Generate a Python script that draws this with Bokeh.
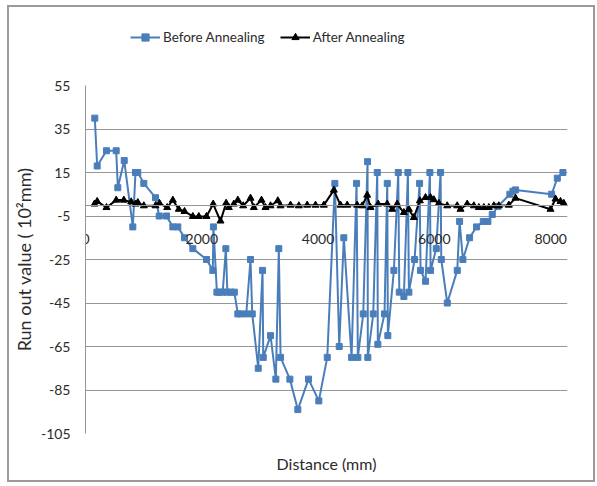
from bokeh.plotting import figure
from bokeh.layouts import column
from bokeh.models import Range1d, LinearAxis, FixedTicker, Legend, LegendItem
from bokeh.embed import file_html
from bokeh.resources import INLINE

# Before Annealing (blue)
before_x = [160, 201, 361, 528, 556, 666, 814, 860, 900, 1003, 1204, 1268, 1393, 1502, 1588,
            1703, 1846, 2082, 2190, 2200, 2260, 2300, 2360, 2414, 2440, 2500, 2560, 2620,
            2666, 2765, 2838, 2868, 2971, 3045, 3057, 3183, 3274, 3325, 3355, 3515, 3652,
            3836, 4013, 4158, 4289, 4364, 4443, 4576, 4662, 4684, 4777, 4851, 4856, 4949,
            5018, 5028, 5143, 5190, 5200, 5304, 5379, 5397, 5476, 5545, 5562, 5660, 5746,
            5763, 5849, 5923, 5935, 6033, 6107, 6119, 6222, 6394, 6434, 6491, 6606, 6726,
            6842, 6921, 6996, 7093, 7299, 7351, 7397, 8017, 8115, 8211]
before_y = [40, 18, 25, 25, 8, 20.5, -10, 15, 15, 10, 3.4, -5, -5, -10, -10,
            -15, -20, -25, -30, -10, -40, -40, -40, -20, -40, -40, -40, -50,
            -50, -50, -25, -50, -75, -30, -70, -60, -80, -20, -70, -80, -94,
            -80, -90, -70, 10, -65, -15, -70, 10, -70, -50, 20, -70, -50,
            15, -64, -50, 10, -60, -30, 15, -40, -42, 15, -40, -25, 10,
            -30, -35, 15, -30, -20, 15, -25, -45, -30, -7.5, -25, -15, -10,
            -7.5, -7.5, -4.3, -0.6, 5, 6.4, 7, 5, 12.4, 15]

# After Annealing (black)
after_x = [155, 201, 361, 528, 659, 786, 860, 900, 1003, 1204, 1273, 1405, 1502, 1605, 1703,
           1846, 1949, 2081, 2196, 2322, 2419, 2465, 2551, 2620, 2712, 2838, 2895, 3027,
           3096, 3182, 3308, 3354, 3526, 3669, 3813, 3956, 4099, 4271, 4386, 4501, 4673,
           4759, 4845, 4902, 5034, 5189, 5275, 5361, 5475, 5561, 5647, 5751, 5848, 5934,
           5991, 6077, 6221, 6393, 6450, 6565, 6679, 6765, 6851, 6937, 7023, 7109, 7281,
           7396, 7998, 8084, 8170, 8227]
after_y = [0.5, 1.7, -1.1, 2.3, 2.3, 1.5, 0.5, 1.2, -0.3, -0.3, 0.8, -1.1, 2.3, -1.9, -2.9,
           -5.2, -5.2, -5.2, 0.5, -7.3, 0.9, -1.1, 0.5, 2.3, -0.3, 3.2, -1.1, 2.3,
           -1.1, -0.3, 2.0, -0.3, 0.0, -0.3, 0.0, 0.0, 0.0, 6.9, 0.0, 0.0, 0.0,
           -0.3, 4.6, -1.1, 0.5, 0.5, -1.9, 0.5, -3.4, -1.9, -5.7, 2.0, 3.5, 3.5,
           2.5, 0.8, -0.3, -0.3, -1.9, 0.5, -0.3, -1.1, -1.1, -1.1, -0.3, -0.3, 0.0,
           3.2, -1.9, 2.8, 1.7, 0.8]

y_ticks = [55, 35, 15, -5, -25, -45, -65, -85, -105]
x_ticks = [0, 2000, 4000, 6000, 8000]

FONT = "Lato"
TXT = "#2b2b2b"
GRID = "#969696"
BLUE = "#4a7ebb"

# ---- legend strip (top) ----
top = figure(width=584, height=60, output_backend="svg", toolbar_location=None,
             x_axis_type=None, y_axis_type=None,
             x_range=Range1d(0, 1), y_range=Range1d(0, 1),
             min_border_left=0, min_border_right=0, min_border_top=0, min_border_bottom=0)
top.outline_line_color = None
top.grid.visible = False
lb = top.line([5, 6], [5, 6], line_color=BLUE, line_width=2)
sb = top.scatter([5], [5], marker="square", size=6, fill_color=BLUE, line_color=BLUE)
la = top.line([5, 6], [5, 6], line_color="black", line_width=2)
sa = top.scatter([5], [5], marker="triangle", size=7, fill_color="black", line_color="black")
legend = Legend(items=[LegendItem(label="Before Annealing", renderers=[lb, sb]),
                       LegendItem(label="After Annealing", renderers=[la, sa])],
                orientation="horizontal", location=(45, 21))
legend.glyph_width = 30
legend.glyph_height = 18
legend.label_standoff = 3
legend.spacing = 15
legend.padding = 0
legend.margin = 0
legend.border_line_color = None
legend.background_fill_alpha = 0
legend.label_text_font = FONT
legend.label_text_font_size = "13.5px"
legend.label_text_color = TXT
top.add_layout(legend, "center")

# ---- main chart ----
p = figure(width=584, height=413, output_backend="svg", toolbar_location=None,
           x_range=Range1d(0, 8290), y_range=Range1d(-105, 55),
           min_border_left=76, min_border_right=26, min_border_top=18, min_border_bottom=47)
p.outline_line_color = None
p.background_fill_color = "white"
p.border_fill_color = "white"

p.xgrid.visible = False
p.ygrid.ticker = FixedTicker(ticks=y_ticks)
p.ygrid.grid_line_color = GRID
p.ygrid.grid_line_width = 1

ya = p.yaxis[0]
ya.ticker = FixedTicker(ticks=y_ticks)
ya.major_label_overrides = {t: str(t) for t in y_ticks}
ya.axis_line_color = GRID
ya.major_tick_line_color = None
ya.minor_tick_line_color = None
ya.major_tick_out = 0
ya.major_tick_in = 0
ya.minor_tick_out = 0
ya.major_label_standoff = 15
ya.major_label_text_font = FONT
ya.major_label_text_font_size = "14px"
ya.major_label_text_color = TXT
ya.axis_label = "Run out value ( 10²mm)"
ya.axis_label_text_font = FONT
ya.axis_label_text_font_style = "normal"
ya.axis_label_text_font_size = "18px"
ya.axis_label_text_color = TXT
ya.axis_label_standoff = 3

xa = p.xaxis[0]
xa.ticker = FixedTicker(ticks=[])
xa.axis_line_color = None
xa.major_tick_line_color = None
xa.minor_tick_line_color = None
xa.major_tick_out = 0
xa.major_tick_in = 0
xa.minor_tick_out = 0
xa.major_label_standoff = 0
xa.axis_label = "Distance (mm)"
xa.axis_label_text_font = FONT
xa.axis_label_text_font_style = "normal"
xa.axis_label_text_font_size = "16px"
xa.axis_label_text_color = TXT
xa.axis_label_standoff = 20

x0 = LinearAxis(ticker=FixedTicker(ticks=x_ticks), fixed_location=0)
x0.axis_line_color = GRID
x0.major_tick_line_color = None
x0.minor_tick_line_color = None
x0.major_tick_out = 0
x0.major_tick_in = 0
x0.minor_tick_out = 0
x0.major_label_standoff = 29
x0.major_label_text_font = FONT
x0.major_label_text_font_size = "14px"
x0.major_label_text_color = TXT
p.add_layout(x0, "below")

p.line(before_x, before_y, line_color=BLUE, line_width=2)
p.scatter(before_x, before_y, marker="square", size=6, fill_color=BLUE, line_color=BLUE)
p.line(after_x, after_y, line_color="black", line_width=2)
p.scatter(after_x, after_y, marker="triangle", size=7, fill_color="black", line_color="black")

layout = column(top, p, spacing=0, margin=(5, 0, 0, 7),
                styles={"border": "2px solid #9a9a9a"})
open("out.html", "w").write(file_html(layout, INLINE))
